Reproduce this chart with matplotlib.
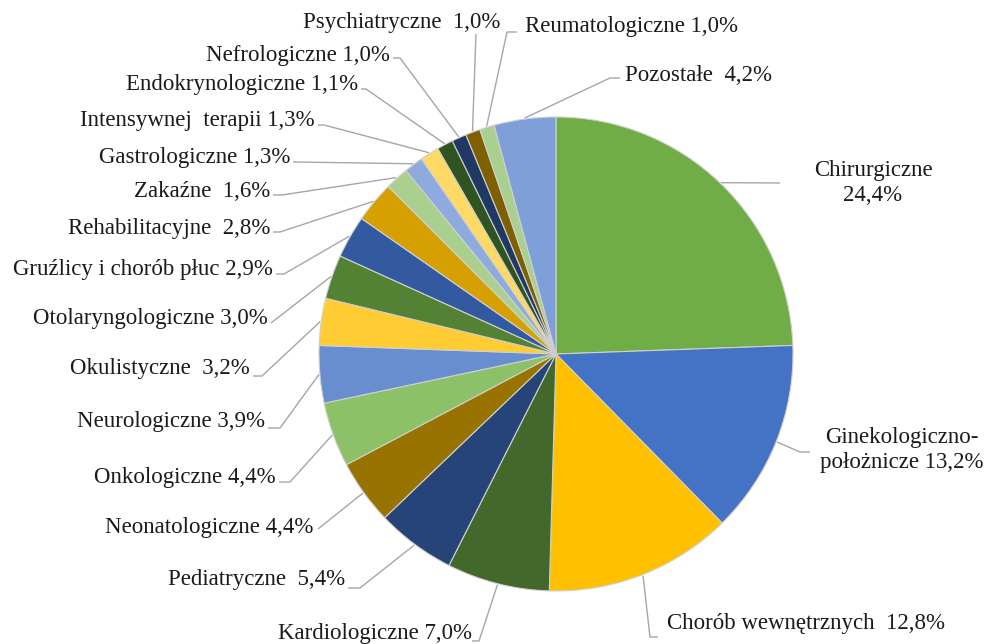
import numpy as np
import matplotlib
matplotlib.use("Agg")
import matplotlib.pyplot as plt

categories = ["Chirurgiczne", "Ginekologiczno-\npołożnicze", "Chorób wewnętrznych ",
              "Kardiologiczne", "Pediatryczne ", "Neonatologiczne", "Onkologiczne",
              "Neurologiczne", "Okulistyczne ", "Otolaryngologiczne",
              "Gruźlicy i chorób płuc", "Rehabilitacyjne ", "Zakaźne ", "Gastrologiczne",
              "Intensywnej  terapii", "Endokrynologiczne", "Nefrologiczne",
              "Psychiatryczne ", "Reumatologiczne", "Pozostałe "]
values = [24.4, 13.2, 12.8, 7.0, 5.4, 4.4, 4.4, 3.9, 3.2, 3.0, 2.9, 2.8, 1.6, 1.3,
          1.3, 1.1, 1.0, 1.0, 1.0, 4.2]
value_labels = ["24,4%", "13,2%", "12,8%", "7,0%", "5,4%", "4,4%", "4,4%", "3,9%",
                "3,2%", "3,0%", "2,9%", "2,8%", "1,6%", "1,3%", "1,3%", "1,1%",
                "1,0%", "1,0%", "1,0%", "4,2%"]
colors = ["#70AD47", "#4472C4", "#FFC000", "#43682B", "#264478", "#997300",
          "#8CC168", "#698ED0", "#FFCD33", "#548235", "#335AA1", "#D6A100",
          "#A9D08E", "#8FAADC", "#FFD966", "#2F5321", "#1F3864", "#7F6000",
          "#A9D08E", "#7F9FD8"]

# label layout in pixel coordinates (x, y from top), alignment, leader path points
W, H = 990, 644
CX, CY, R = 556, 354, 237
layout = [
    (873, 183, "center", [(780, 183)]),
    (902, 450, "center", [(800, 452), (810, 452)]),
    (667, 623, "left", [(650, 637), (658, 637)]),
    (472, 634, "right", [(479, 641), (472, 641)]),
    (345, 580, "right", [(360, 588), (348, 588)]),
    (313, 527, "right", [(318, 529)]),
    (276, 477, "right", [(290, 482), (279, 482)]),
    (265, 421, "right", [(280, 428), (268, 428)]),
    (250, 368, "right", [(262, 376), (253, 376)]),
    (268, 318, "right", [(271, 323)]),
    (273, 269, "right", [(284, 274), (276, 274)]),
    (270, 228, "right", [(280, 232), (273, 232)]),
    (270, 191, "right", [(282, 195), (273, 195)]),
    (290, 157, "right", [(296, 162), (293, 162)]),
    (315, 120, "right", [(324, 125), (318, 125)]),
    (358, 84, "right", [(366, 89), (361, 89)]),
    (390, 55, "right", [(400, 58), (393, 58)]),
    (500, 22, "right", [(476, 34)]),
    (525, 26, "left", [(507, 32), (517, 32)]),
    (625, 75, "left", [(610, 78), (620, 78)]),
]

plt.rcParams['font.family'] = ['Liberation Serif', 'DejaVu Serif']
fig = plt.figure(figsize=(9.9, 6.44), dpi=100)
ax = fig.add_axes([0, 0, 1, 1])
ax.axis("off")

wedges, _ = ax.pie(values, colors=colors, startangle=90, counterclock=False,
                   center=(CX, H - CY), radius=R,
                   wedgeprops=dict(edgecolor="#d0d0d0", linewidth=0.8))
ax.set_xlim(0, W)
ax.set_ylim(0, H)
ax.set_aspect("equal")

for w, cat, vl, (tx, ty, ha, path) in zip(wedges, categories, value_labels, layout):
    ang = np.deg2rad((w.theta1 + w.theta2) / 2)
    px = CX + (R + 1) * np.cos(ang)
    py = (H - CY) + (R + 1) * np.sin(ang)
    xs = [px] + [p[0] for p in path]
    ys = [py] + [H - p[1] for p in path]
    ax.plot(xs, ys, color="#a6a6a6", lw=1.0, solid_capstyle="butt", zorder=1)
    if cat == "Chirurgiczne":
        txt = f"{cat}\n{vl}"
    else:
        txt = f"{cat} {vl}"
    ax.text(tx, H - ty, txt, ha=ha, va="center", fontsize=16.5, color="#1a1a1a",
            linespacing=1.3, multialignment="center" if ha == "center" else ha)

fig.savefig("out.png", dpi=100, facecolor="white")
